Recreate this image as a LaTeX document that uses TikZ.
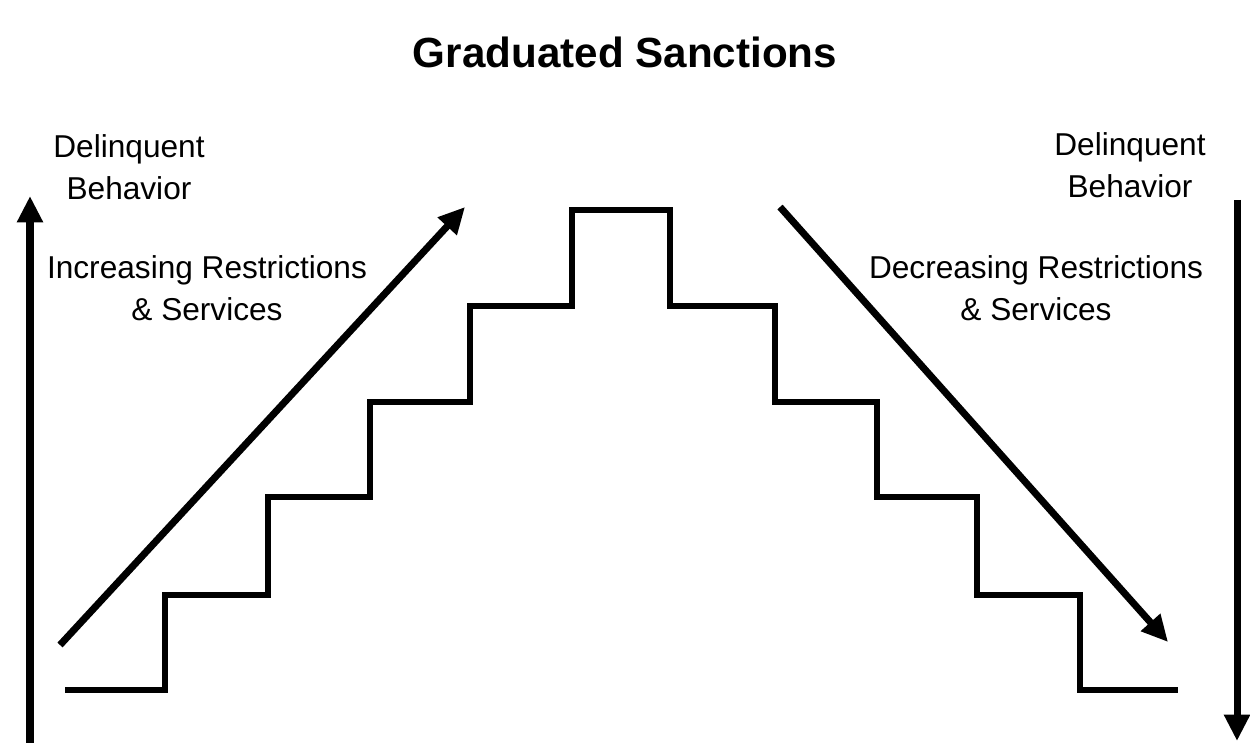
\documentclass[tikz,border=0pt]{standalone}
\usepackage{fontspec}
\setmainfont{Liberation Sans}
\usetikzlibrary{arrows.meta}

\begin{document}
\begin{tikzpicture}[x=0.02cm,y=-0.02cm,
  label/.style={align=center,font=\fontsize{18}{24}\selectfont},
  heading/.style={font=\bfseries\fontsize{24}{29}\selectfont},
  stairs/.style={line width=3.4pt},
  flow/.style={-{Triangle[length=15pt,width=14pt]},line width=4pt}]

\useasboundingbox (0,0) rectangle (1250,743);

% Title and the text labels
\node[heading] (title) at (625,52) {Graduated Sanctions};
\node[label] (behaviorUp) at (129,167) {Delinquent\\Behavior};
\node[label] (behaviorDown) at (1130,165) {Delinquent\\Behavior};
\node[label] (increasing) at (207,288) {Increasing Restrictions\\\& Services};
\node[label] (decreasing) at (1036,288) {Decreasing Restrictions\\\& Services};

% End points of the arrows
\coordinate (upStart) at (30,743);
\coordinate (upEnd) at (30,196);
\coordinate (downStart) at (1237,200);
\coordinate (downEnd) at (1237,741);
\coordinate (riseStart) at (60,645);
\coordinate (riseEnd) at (465,207);
\coordinate (fallStart) at (780,207);
\coordinate (fallEnd) at (1168,642);

% The steps up and down
\draw[stairs] (65,690) -- (165,690) -- (165,595) -- (268,595) -- (268,497)
  -- (370,497) -- (370,402) -- (470,402) -- (470,306) -- (572,306)
  -- (572,210) -- (670,210) -- (670,306) -- (775,306) -- (775,402)
  -- (877,402) -- (877,497) -- (977,497) -- (977,595) -- (1080,595)
  -- (1080,690) -- (1178,690);

% Draw the arrows
\draw[flow] (upStart) -- (upEnd);
\draw[flow] (downStart) -- (downEnd);
\draw[flow] (riseStart) -- (riseEnd);
\draw[flow] (fallStart) -- (fallEnd);

\end{tikzpicture}
\end{document}
